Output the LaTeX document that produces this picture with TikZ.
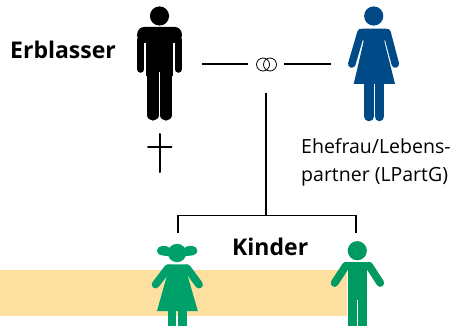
\documentclass[tikz,border=0pt]{standalone}
\usepackage{fontspec}
\setmainfont{Open Sans}
\definecolor{band}{HTML}{FDDF9F}
\definecolor{wblue}{HTML}{004A87}
\definecolor{ggreen}{HTML}{00A06B}
\definecolor{bgreen}{HTML}{009A60}
\tikzset{
 conn/.style={line width=1.7pt,draw=black},
 limb/.style={line width=#1,line cap=round,line join=round},
 lab/.style={inner sep=0pt,anchor=base west},
 labb/.style={lab,font=\bfseries\fontsize{23}{28}\selectfont},
 labn/.style={lab,font=\fontsize{19.5}{22}\selectfont},
 ring/.style={circle,draw=black,line width=.8pt,minimum size=13pt,inner sep=0pt}
}
\begin{document}
\begin{tikzpicture}[x=1pt,y=-1pt]
\useasboundingbox (0,0) rectangle (454,326);
\fill[band] (0,270) rectangle (347,316);
% man
\fill (159.5,16) circle (9.6);
\fill[rounded corners=7pt] (137.2,43) -- (137.2,27) -- (181.8,27) -- (181.8,43) -- cycle;
\draw[limb=7.2pt] (140.8,40) -- (140.8,69.2);
\draw[limb=7.2pt] (178.2,40) -- (178.2,69.2);
\fill (146,30) rectangle (173,76);
\fill (147.3,70) rectangle (171.7,100);
\draw[limb=11.2pt] (153,90) -- (153,115);
\draw[limb=11.2pt] (166,90) -- (166,115);
\draw[white,line width=1.6pt] (159.5,72) -- (159.5,122);
% cross
\draw[line width=2pt,line cap=round] (159.5,134) -- (159.5,172);
\draw[line width=2pt,line cap=round] (148,146.5) -- (171.5,146.5);
% woman
\fill[wblue] (373.7,16) circle (9.6);
\fill[wblue] (362,28.7) -- (386,28.7) -- (384.5,42) -- (395,84) -- (353.7,84) -- (363.5,42) -- cycle;
\draw[wblue,limb=7.6pt] (361,32.5) -- (351.8,64);
\draw[wblue,limb=7.6pt] (387,32.5) -- (395.3,64);
\draw[wblue,limb=9.5pt] (369,80) -- (369,116.5);
\draw[wblue,limb=9.5pt] (379.3,80) -- (379.3,116.5);
% girl
\fill[ggreen] (177,253) circle (9.2);
\fill[ggreen] (171,249) .. controls (165,243.5) and (157,245.5) .. (157,251) .. controls (157,256) and (165,256) .. (171,256) -- cycle;
\fill[ggreen] (183,249) .. controls (189,243.5) and (197.4,245.5) .. (197.4,251) .. controls (197.4,256) and (189,256) .. (183,256) -- cycle;
\fill[ggreen] (168,264.3) -- (187,264.3) -- (188,277) -- (197.8,311) -- (157,311) -- (166.5,277) -- cycle;
\draw[ggreen,limb=7.8pt] (168,268.2) -- (155.6,284.5);
\draw[ggreen,limb=7.8pt] (187,268.2) -- (199,284.5);
\fill[ggreen] (168,305) rectangle (176.3,326);
\fill[ggreen] (178,305) rectangle (187.3,326);
% boy
\fill[bgreen] (357.3,250.7) circle (9.6);
\fill[bgreen] (346,261.7) rectangle (369,270);
\fill[bgreen] (347.7,268) rectangle (367.3,300);
\draw[bgreen,limb=7.8pt] (346,265.6) -- (334.6,283);
\draw[bgreen,limb=7.8pt] (369,265.6) -- (380.3,283);
\fill[bgreen] (347.7,298) rectangle (356.5,326);
\fill[bgreen] (358.3,298) rectangle (367.3,326);
% connectors
\coordinate (ml) at (202,64);
\coordinate (mr) at (248,64);
\coordinate (fl) at (284,64);
\coordinate (fr) at (331,64);
\coordinate (vt) at (266,93);
\coordinate (vb) at (266,215.5);
\coordinate (gl) at (178,233);
\coordinate (gc) at (178,215.5);
\coordinate (bc) at (356,215.5);
\coordinate (br) at (356,233);
\draw[conn] (ml) -- (mr);
\draw[conn] (fl) -- (fr);
\draw[conn] (vt) -- (vb);
\draw[conn] (gl) -- (gc) -- (bc) -- (br);
\node[ring] (ra) at (263,64.5) {};
\node[ring] (rb) at (270,64.5) {};
% labels
\node[labb] (erb) at (10,59) {Erblasser};
\node[labb] (kin) at (232,255) {Kinder};
\node[labn] (l1) at (301,153.5) {Ehefrau/Lebens-};
\node[labn] (l2) at (301,181.5) {partner (LPartG)};
\end{tikzpicture}
\end{document}
